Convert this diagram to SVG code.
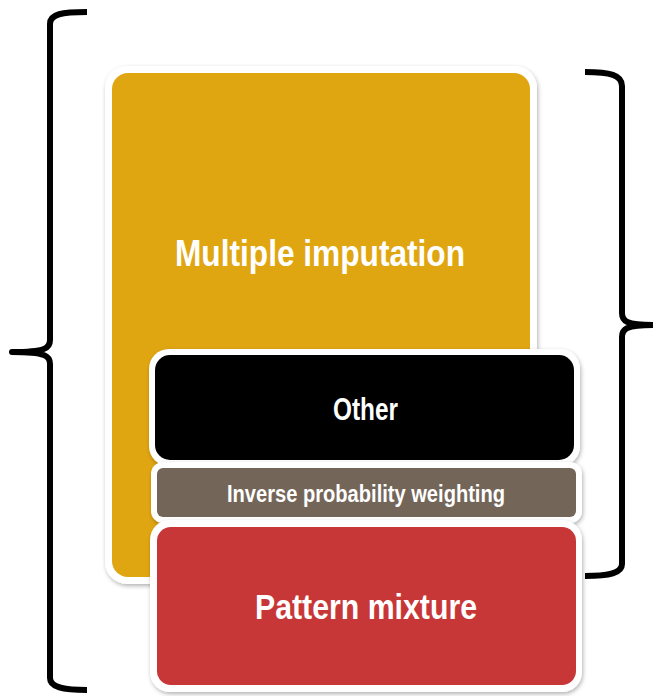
<svg xmlns="http://www.w3.org/2000/svg" width="653" height="696" viewBox="0 0 653 696">
  <defs>
    <filter id="shadow" x="-10%" y="-10%" width="120%" height="120%">
      <feDropShadow dx="1" dy="2" stdDeviation="2" flood-color="#000" flood-opacity="0.3"/>
    </filter>
  </defs>
  <style>
    .frame { fill: #ffffff; filter: url(#shadow); }
    .label { fill: #ffffff; font-family: "Liberation Sans Narrow", "Liberation Sans", Arial, sans-serif; font-weight: bold; text-anchor: middle; }
    .brace { fill: none; stroke: #000000; stroke-width: 6; stroke-linecap: butt; stroke-linejoin: round; }
  </style>

  <!-- outer braces -->
  <g id="connectors">
    <path class="brace" d="M87,12 C62,12 50,14 50,24 L50,340 C50,348 46,352 12,352 C46,352 50,356 50,364 L50,678 C50,687 62,690 87,690"/>
    <path class="brace" d="M585,72 C610,72 622,75 622,86 L622,313 C622,321 626,325 653,325 C626,325 622,329 622,337 L622,564 C622,573 610,576 585,576"/>
  </g>

  <!-- Multiple imputation -->
  <g id="multiple-imputation">
    <rect class="frame" x="105" y="66" width="432" height="518" rx="22"/>
    <rect x="112" y="73" width="418" height="504" rx="16" fill="#E0A612"/>
    <text class="label" x="320" y="266" font-size="37" textLength="290" lengthAdjust="spacingAndGlyphs">Multiple imputation</text>
  </g>

  <!-- Other -->
  <g id="other">
    <rect class="frame" x="149" y="349" width="431" height="117" rx="20"/>
    <rect x="155" y="355" width="419" height="105" rx="15" fill="#000000"/>
    <text class="label" x="365.5" y="420" font-size="31" textLength="65" lengthAdjust="spacingAndGlyphs">Other</text>
  </g>

  <!-- Inverse probability weighting -->
  <g id="inverse-probability-weighting">
    <rect class="frame" x="151" y="462" width="431" height="61" rx="12"/>
    <rect x="157" y="468" width="419" height="49" rx="6" fill="#736659"/>
    <text class="label" x="366" y="502" font-size="23" textLength="278" lengthAdjust="spacingAndGlyphs">Inverse probability weighting</text>
  </g>

  <!-- Pattern mixture -->
  <g id="pattern-mixture">
    <rect class="frame" x="150" y="520" width="432" height="172" rx="20"/>
    <rect x="157" y="527" width="419" height="158" rx="14" fill="#C73737"/>
    <text class="label" x="366" y="619" font-size="35" textLength="222" lengthAdjust="spacingAndGlyphs">Pattern mixture</text>
  </g>
</svg>
